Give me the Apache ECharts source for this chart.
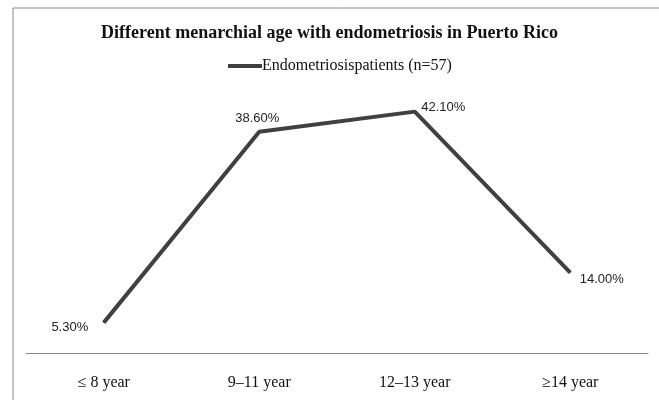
<!DOCTYPE html>
<html>
<head>
<meta charset="utf-8">
<script src="https://cdn.jsdelivr.net/npm/echarts@6/dist/echarts.min.js"></script>
<style>
  html, body { margin: 0; padding: 0; background: #fff; }
  #chart { width: 659px; height: 400px; }
</style>
</head>
<body>
<div id="chart"></div>
<script>
const categories = ['\u2264 8 year', '9\u201311 year', '12\u201313 year', '\u226514 year'];
const patients = [5.3, 38.6, 42.1, 14.0];
// label placement per point, as in the original figure
const labelPos = ['left', 'top', 'right', 'right'];
const labelOffset = [[-10, 5], [-2, -1], [1, -4], [4, 7]];

const chart = echarts.init(document.getElementById('chart'));

const option = {
  backgroundColor: '#fff',
  animation: false,
  title: {
    text: 'Different menarchial age with endometriosis in Puerto Rico',
    left: 'center',
    top: 19,
    textStyle: {
      fontFamily: 'Liberation Serif',
      fontWeight: 'bold',
      fontSize: 18,
      color: '#111'
    }
  },
  legend: {
    data: ['Endometriosispatients (n=57)'],
    top: 53,
    left: 223,
    itemWidth: 34,
    itemHeight: 4,
    itemGap: 0,
    icon: 'rect',
    textStyle: {
      fontFamily: 'Liberation Serif',
      fontSize: 16,
      color: '#111',
      padding: [0, 0, 0, -5]
    }
  },
  graphic: [{
    type: 'rect',
    shape: { x: 13, y: 8, width: 700, height: 500 },
    style: { fill: 'none', stroke: '#888', lineWidth: 1 },
    silent: true
  }],
  grid: {
    left: 26,
    right: 11,
    top: 95,
    bottom: 47
  },
  xAxis: {
    type: 'category',
    data: categories,
    boundaryGap: true,
    axisLine: { lineStyle: { color: '#888', width: 1 } },
    axisTick: { show: false },
    axisLabel: {
      margin: 22,
      fontFamily: 'Liberation Serif',
      fontSize: 16,
      color: '#111'
    }
  },
  yAxis: {
    type: 'value',
    min: 0,
    max: 45,
    show: false
  },
  series: [{
    name: 'Endometriosispatients (n=57)',
    type: 'line',
    data: patients.map((v, i) => ({
      value: v,
      label: { position: labelPos[i], offset: labelOffset[i] }
    })),
    symbol: 'circle',
    symbolSize: 1,
    showSymbol: true,
    color: '#404040',
    lineStyle: { color: '#404040', width: 4 },
    label: {
      show: true,
      distance: 5,
      fontFamily: 'Liberation Sans',
      fontSize: 13,
      color: '#222',
      formatter: p => p.value.toFixed(2) + '%'
    }
  }]
};

chart.setOption(option);
window.addEventListener('resize', () => chart.resize());
</script>
</body>
</html>
